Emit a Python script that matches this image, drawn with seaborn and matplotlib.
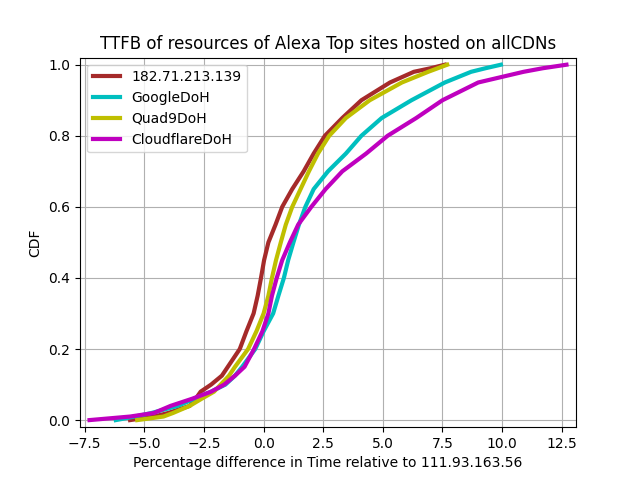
#!/usr/bin/env python3
"""TTFB の CDF グラフ（Alexa Top sites, allCDNs）"""

import matplotlib
matplotlib.use("Agg")
import matplotlib.pyplot as plt
import pandas as pd
import seaborn as sns

# CDF の水準（縦軸）
cdf_levels = [0, 0.01, 0.02, 0.04, 0.06, 0.08, 0.1, 0.125, 0.15, 0.2, 0.25,
              0.3, 0.35, 0.4, 0.45, 0.5, 0.55, 0.6, 0.65, 0.7, 0.75, 0.8,
              0.85, 0.9, 0.95, 0.98, 0.99, 1.0]

# 各リゾルバの分位点（横軸: 111.93.163.56 に対する差 [%]）
resolver_139 = [-5.6, -4.6, -4.0, -3.1, -2.85, -2.64, -2.2, -1.75, -1.5, -1.0, -0.72,
                -0.42, -0.25, -0.11, 0.02, 0.2, 0.5, 0.78, 1.2, 1.68, 2.1, 2.57,
                3.3, 4.1, 5.3, 6.3, 7.0, 7.6]
google_doh = [-6.2, -5.4, -4.7, -3.6, -2.9, -2.2, -1.6, -1.2, -0.9, -0.35, 0.0,
              0.4, 0.62, 0.85, 1.03, 1.25, 1.48, 1.75, 2.1, 2.7, 3.45, 4.1,
              4.95, 6.2, 7.6, 8.7, 9.3, 9.95]
quad9_doh = [-5.3, -4.2, -3.8, -3.1, -2.6, -2.08, -1.8, -1.45, -1.2, -0.65, -0.3,
             0.0, 0.2, 0.35, 0.52, 0.72, 0.93, 1.2, 1.55, 1.9, 2.28, 2.75,
             3.45, 4.45, 5.8, 6.9, 7.3, 7.7]
cloudflare_doh = [-7.3, -5.6, -4.6, -3.9, -3.0, -2.2, -1.65, -1.2, -0.8, -0.4, -0.05,
                  0.2, 0.35, 0.55, 0.78, 1.1, 1.45, 2.0, 2.6, 3.3, 4.3, 5.2,
                  6.4, 7.5, 9.0, 10.9, 11.7, 12.7]

series = {
    "182.71.213.139": (resolver_139, "brown"),
    "GoogleDoH": (google_doh, "c"),
    "Quad9DoH": (quad9_doh, "y"),
    "CloudflareDoH": (cloudflare_doh, "m"),
}

fig, ax = plt.subplots(figsize=(6.4, 4.8), dpi=100)

for name, (values, color) in series.items():
    df = pd.DataFrame({"x": values, "cdf": cdf_levels})
    sns.lineplot(data=df, x="x", y="cdf", ax=ax, color=color, linewidth=3,
                 sort=False, estimator=None, label=name)

ax.margins(0.02)
ax.grid(True)
ax.set_title("TTFB of resources of Alexa Top sites hosted on allCDNs")
ax.set_xlabel("Percentage difference in Time relative to 111.93.163.56")
ax.set_ylabel("CDF")
ax.legend(loc="upper left")

plt.savefig("out.png", dpi=100)
plt.close()
